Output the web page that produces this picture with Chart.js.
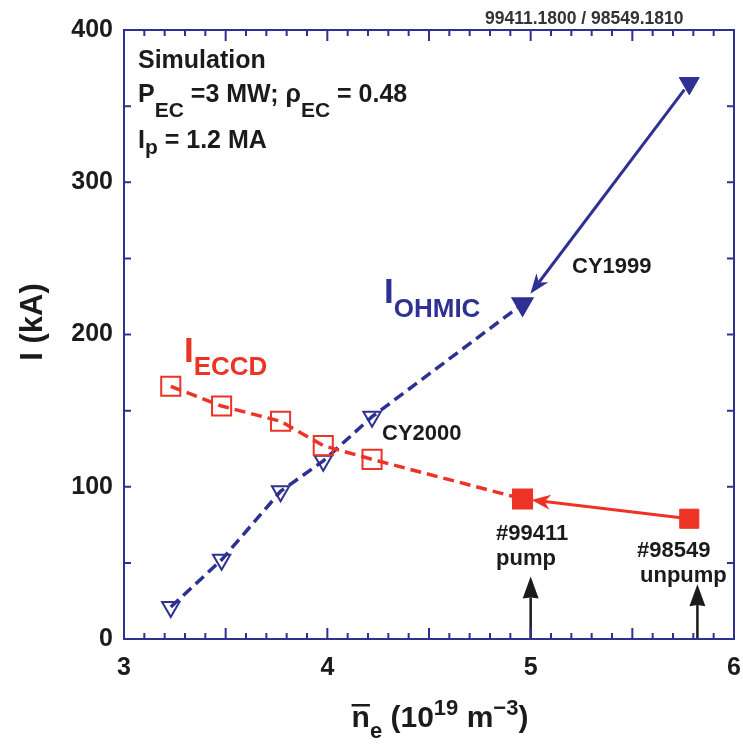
<!DOCTYPE html>
<html>
<head>
<meta charset="utf-8">
<script src="https://cdn.jsdelivr.net/npm/chart.js@4/dist/chart.umd.min.js"></script>
<style>
  html, body { margin: 0; padding: 0; background: #ffffff; overflow: hidden; }
  #wrap { width: 743px; height: 752px; position: relative; }
  #c { display: block; }
</style>
</head>
<body>
<div id="wrap"><canvas id="c" width="743" height="752"></canvas></div>
<script>
// Line-averaged density scan (10^19 m^-3) and simulated currents (kA)
const density   = [3.23, 3.48, 3.77, 3.98, 4.22, 4.96];
const iEccd     = [166, 153, 143, 127, 118, 92];
const iOhmic    = [21, 52, 97, 117, 146, 220];

// CY1999 unpumped reference case
const cy1999Density = [5.78];
const cy1999Eccd    = [79];
const cy1999Ohmic   = [365];

// Measured shot densities marked on the axis
const shotDensity  = [5.0, 5.82];
const shotArrowTop = [41, 36];

// Axis ticks
const xTicks = [3, 4, 5, 6];
const yTicks = [0, 100, 200, 300, 400];

const BLUE = '#2e3192';
const RED  = '#ec3326';
const INK  = '#1b1b1b';
const FAM  = '"Liberation Sans", Arial, Helvetica, sans-serif';
const CLEAR = 'rgba(0,0,0,0)';

const pts = (xs, ys) => xs.map((x, i) => ({ x, y: ys[i] }));
const font = (s) => `bold ${s}px ${FAM}`;

// Draw a run of text pieces: [text, size, baselineShift]
function rich(ctx, x, y, parts, color, align) {
  ctx.fillStyle = color;
  ctx.textBaseline = 'alphabetic';
  ctx.textAlign = 'left';
  let total = 0;
  for (const [t, s] of parts) { ctx.font = font(s); total += ctx.measureText(t).width; }
  let cx = align === 'center' ? x - total / 2 : x;
  const starts = [];
  for (const [t, s, dy] of parts) {
    ctx.font = font(s);
    starts.push(cx);
    ctx.fillText(t, cx, y + (dy || 0));
    cx += ctx.measureText(t).width;
  }
  return starts;
}

function arrow(ctx, x0, y0, x1, y1, color, lw, headLen, headW, notch) {
  const ang = Math.atan2(y1 - y0, x1 - x0);
  const c = Math.cos(ang), s = Math.sin(ang);
  const bx = x1 - c * headLen, by = y1 - s * headLen;
  const nx = x1 - c * headLen * (1 - notch), ny = y1 - s * headLen * (1 - notch);
  ctx.strokeStyle = color; ctx.fillStyle = color; ctx.lineWidth = lw;
  ctx.beginPath(); ctx.moveTo(x0, y0); ctx.lineTo(nx, ny); ctx.stroke();
  ctx.beginPath();
  ctx.moveTo(x1, y1);
  ctx.lineTo(bx - s * headW / 2, by + c * headW / 2);
  ctx.lineTo(nx, ny);
  ctx.lineTo(bx + s * headW / 2, by - c * headW / 2);
  ctx.closePath(); ctx.fill();
}

const decor = {
  id: 'decor',
  afterDatasetsDraw(chart) {
    const { ctx, chartArea: a, scales: { x, y } } = chart;
    ctx.save();

    // arrows between the two operating points
    {
      const x0 = x.getPixelForValue(cy1999Density[0]), y0 = y.getPixelForValue(cy1999Ohmic[0]);
      const x1 = x.getPixelForValue(density[5]),       y1 = y.getPixelForValue(iOhmic[5]);
      const d = Math.hypot(x1 - x0, y1 - y0), ux = (x1 - x0) / d, uy = (y1 - y0) / d;
      arrow(ctx, x0 + ux * 8, y0 + uy * 8, x1 - ux * 13, y1 - uy * 13, BLUE, 3, 20, 15, 0.3);
    }
    {
      const x0 = x.getPixelForValue(cy1999Density[0]), y0 = y.getPixelForValue(cy1999Eccd[0]);
      const x1 = x.getPixelForValue(density[5]),       y1 = y.getPixelForValue(iEccd[5]);
      const d = Math.hypot(x1 - x0, y1 - y0), ux = (x1 - x0) / d, uy = (y1 - y0) / d;
      arrow(ctx, x0, y0, x1 - ux * 9, y1 - uy * 9, RED, 3, 19, 15, 0.3);
    }
    // shot markers on the density axis
    shotDensity.forEach((v, i) => {
      const px = x.getPixelForValue(v);
      arrow(ctx, px, y.getPixelForValue(0), px, y.getPixelForValue(shotArrowTop[i]), INK, 2.5, 22, 16, 0.05);
    });

    // frame
    ctx.strokeStyle = BLUE; ctx.lineWidth = 2;
    ctx.strokeRect(a.left, a.top, a.right - a.left, a.bottom - a.top);

    // inward tick marks
    ctx.lineWidth = 2;
    ctx.beginPath();
    for (let i = 0; i <= 30; i++) {
      const px = x.getPixelForValue(xTicks[0] + i * 0.1);
      const len = i % 5 === 0 ? 11 : 6;
      ctx.moveTo(px, a.bottom); ctx.lineTo(px, a.bottom - len);
      ctx.moveTo(px, a.top);    ctx.lineTo(px, a.top + len);
    }
    for (let v = 0; v <= 400; v += 50) {
      const py = y.getPixelForValue(v);
      ctx.moveTo(a.left, py);  ctx.lineTo(a.left + 7, py);
      ctx.moveTo(a.right, py); ctx.lineTo(a.right - 7, py);
    }
    ctx.stroke();

    // density tick labels
    ctx.font = font(25);
    ctx.fillStyle = INK;
    ctx.textAlign = 'center';
    ctx.textBaseline = 'alphabetic';
    xTicks.forEach(v => ctx.fillText(String(v), x.getPixelForValue(v), a.bottom + 36));

    // header and parameter block
    rich(ctx, 485, 24, [['99411.1800 / 98549.1810', 17.5]], '#333333');
    rich(ctx, 138, 68, [['Simulation', 25]], INK);
    rich(ctx, 138, 102, [['P', 25], ['EC', 21, 15], [' =3 MW; \u03C1', 25], ['EC', 21, 15], [' = 0.48', 25]], INK);
    rich(ctx, 138, 148, [['I', 25], ['p', 21, 6], [' = 1.2 MA', 25]], INK);

    // series labels
    rich(ctx, 384, 303, [['I', 35], ['OHMIC', 26, 14]], BLUE);
    rich(ctx, 184, 362, [['I', 35], ['ECCD', 26, 13]], RED);

    // case labels
    rich(ctx, 572, 273, [['CY1999', 22]], INK);
    rich(ctx, 382, 440, [['CY2000', 22]], INK);
    rich(ctx, 496, 540, [['#99411', 22]], INK);
    rich(ctx, 496, 565, [['pump', 22]], INK);
    rich(ctx, 637, 557, [['#98549', 22]], INK);
    rich(ctx, 640, 582, [['unpump', 22]], INK);

    // axis titles
    ctx.save();
    ctx.translate(42, 322);
    ctx.rotate(-Math.PI / 2);
    rich(ctx, 0, 0, [['I (kA)', 31]], INK, 'center');
    ctx.restore();

    const starts = rich(ctx, 440, 727,
      [['n', 30], ['e', 22, 11], [' (10', 30], ['19', 22, -12], [' m', 30], ['\u22123', 22, -12], [')', 30]],
      INK, 'center');
    ctx.font = font(30);
    const nw = ctx.measureText('n').width;
    ctx.fillStyle = INK;
    ctx.fillRect(starts[0], 704, nw, 2.5);

    ctx.restore();
  }
};

const tickFont = { family: FAM, size: 25, weight: 'bold' };

new Chart(document.getElementById('c'), {
  type: 'scatter',
  data: {
    datasets: [
      {
        label: 'I_ECCD',
        data: pts(density, iEccd),
        showLine: true,
        borderColor: RED,
        borderWidth: 3.5,
        borderDash: [11, 6],
        pointStyle: 'rect',
        pointRadius: 13.5,
        pointBorderWidth: 2,
        pointBorderColor: RED,
        pointBackgroundColor: [CLEAR, CLEAR, CLEAR, CLEAR, CLEAR, RED]
      },
      {
        label: 'I_OHMIC',
        data: pts(density, iOhmic),
        showLine: true,
        borderColor: BLUE,
        borderWidth: 3.5,
        borderDash: [11, 6],
        pointStyle: 'triangle',
        rotation: 180,
        pointRadius: [10, 10, 10, 10, 10, 11.5],
        pointBorderWidth: 2,
        pointBorderColor: BLUE,
        pointBackgroundColor: [CLEAR, CLEAR, CLEAR, CLEAR, CLEAR, BLUE]
      },
      {
        label: 'I_ECCD CY1999',
        data: pts(cy1999Density, cy1999Eccd),
        showLine: false,
        pointStyle: 'rect',
        pointRadius: 13.5,
        pointBorderWidth: 1,
        pointBorderColor: RED,
        pointBackgroundColor: RED
      },
      {
        label: 'I_OHMIC CY1999',
        data: pts(cy1999Density, cy1999Ohmic),
        showLine: false,
        pointStyle: 'triangle',
        rotation: 180,
        pointRadius: 11.5,
        pointBorderWidth: 1,
        pointBorderColor: BLUE,
        pointBackgroundColor: BLUE
      }
    ]
  },
  options: {
    responsive: false,
    animation: false,
    events: [],
    layout: { autoPadding: false, padding: { top: 30, right: 9, left: 0, bottom: 0 } },
    plugins: { legend: { display: false }, tooltip: { enabled: false } },
    scales: {
      x: {
        type: 'linear',
        min: xTicks[0], max: xTicks[xTicks.length - 1],
        afterBuildTicks: (s) => { s.ticks = xTicks.map(v => ({ value: v })); },
        afterFit: (s) => { s.height = 113; s.paddingLeft = 0; s.paddingRight = 0; },
        grid: { display: false },
        border: { display: false },
        ticks: { display: false }
      },
      y: {
        type: 'linear',
        min: yTicks[0], max: yTicks[yTicks.length - 1],
        afterBuildTicks: (s) => { s.ticks = yTicks.map(v => ({ value: v })); },
        afterFit: (s) => { s.width = 124; },
        grid: { display: false },
        border: { display: false },
        ticks: { font: tickFont, color: INK, padding: 3 }
      }
    }
  },
  plugins: [decor]
});
</script>
</body>
</html>
